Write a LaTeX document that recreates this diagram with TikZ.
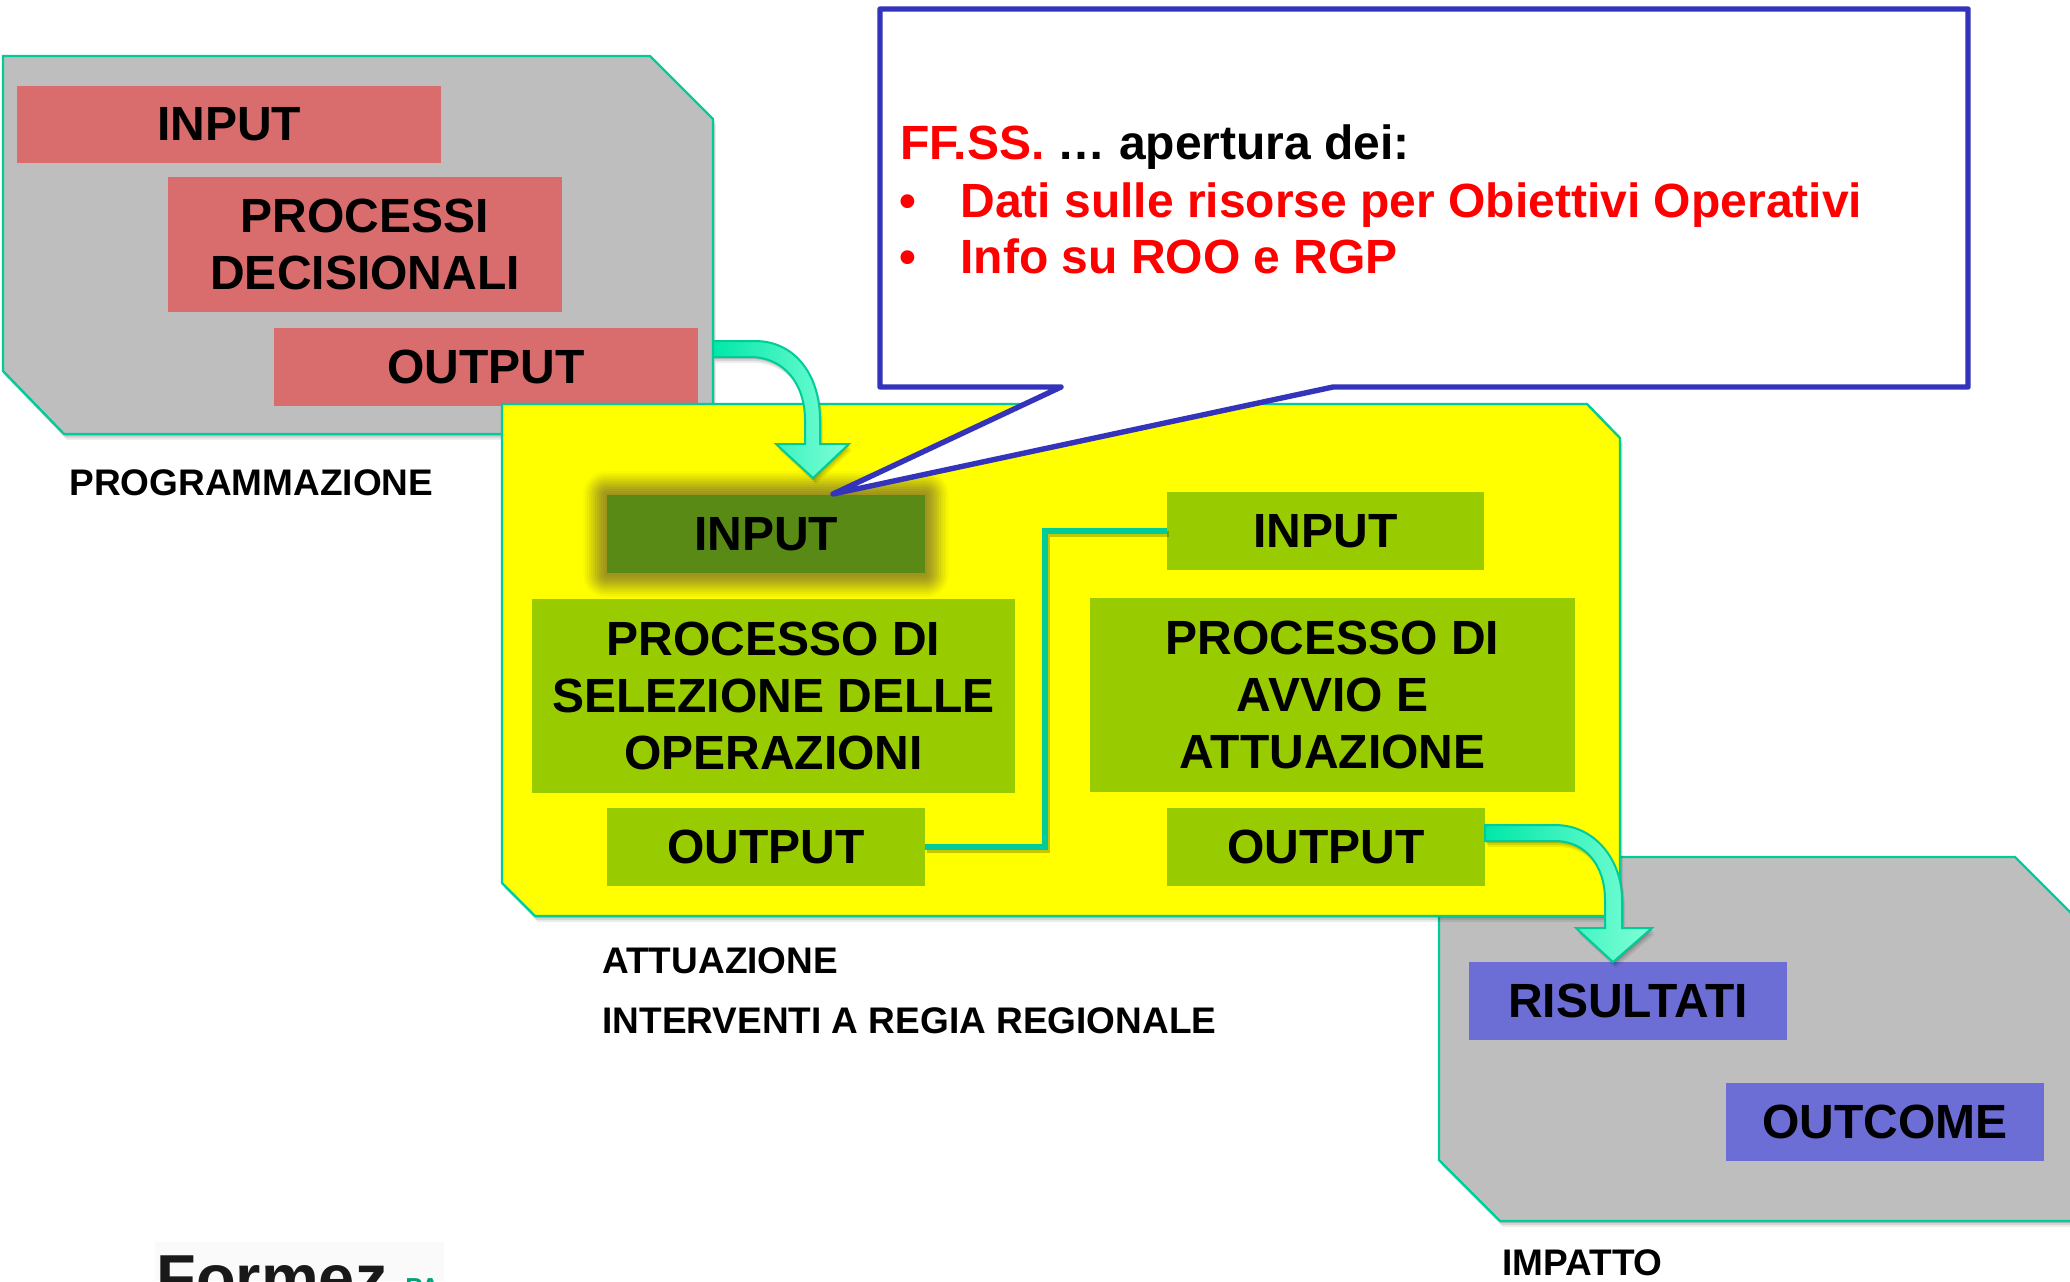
\documentclass[tikz,border=0pt]{standalone}
\usepackage{fontspec}
\setmainfont{Liberation Sans}
\definecolor{edgeg}{HTML}{00CC99}
\definecolor{panelg}{HTML}{BEBEBE}
\definecolor{redb}{HTML}{D96D6D}
\definecolor{greenb}{HTML}{99CC00}
\definecolor{darkg}{HTML}{598A16}
\definecolor{blueb}{HTML}{6D6DD6}
\definecolor{callb}{HTML}{3333BB}
\definecolor{glowc}{HTML}{7A6E30}
\definecolor{arrowa}{HTML}{00E8A8}
\definecolor{arrowb}{HTML}{80FFD8}
\definecolor{pureyellow}{HTML}{FFFF00}
\definecolor{purered}{HTML}{FF0000}
\newcommand{\rbox}[7]{\node[#1,minimum width={(#5-#3)*0.5pt},minimum height={(#6-#4)*0.5pt}] (#2) at ({(#3+#5)/2},{(#4+#6)/2+1}) {#7};}
\tikzset{
  x=0.5pt,y=-0.5pt,
  softshadow/.style={
    preaction={fill=black,fill opacity=.07,transform canvas={xshift=1.5pt,yshift=-3pt}},
    preaction={fill=black,fill opacity=.10,transform canvas={xshift=1pt,yshift=-2pt}},
    preaction={fill=black,fill opacity=.14,transform canvas={xshift=.5pt,yshift=-1pt}}},
  panel/.style={draw=edgeg,line width=1.2pt,line join=miter,softshadow},
  boxtxt/.style={inner sep=0pt,outer sep=0pt,align=center,font=\fontsize{24}{28.7}\selectfont\bfseries},
  redbox/.style={boxtxt,fill=redb},
  greenbox/.style={boxtxt,fill=greenb},
  darkbox/.style={boxtxt,fill=darkg},
  bluebox/.style={boxtxt,fill=blueb},
  lab/.style={inner sep=0pt,anchor=base west,font=\fontsize{18.5}{21}\selectfont\bfseries},
  calltxt/.style={inner sep=0pt,anchor=base west,font=\fontsize{24}{28.7}\selectfont\bfseries,text=purered},
  blockarrow/.style={draw=edgeg,line width=1pt,line join=miter,left color=arrowa,middle color=arrowb,right color=arrowb,softshadow},
}
\begin{document}
\begin{tikzpicture}
\useasboundingbox (0,0) rectangle (2070,1281);
\clip (0,0) rectangle (2070,1281);
% programmazione panel
\path[panel,fill=panelg] (3,56) -- (650,56) -- (713,119) -- (713,434) -- (64,434) -- (3,371) -- cycle;
\rbox{redbox}{pin}{17}{85}{441}{162}{INPUT}
\rbox{redbox}{pdec}{168}{176}{562}{311}{PROCESSI\\DECISIONALI}
\rbox{redbox}{pout}{274}{327}{698}{405}{OUTPUT}
\node[lab] (lprog) at (69,495) {PROGRAMMAZIONE};
% impatto panel
\path[panel,fill=panelg] (1439,857) -- (2015,857) -- (2085,927) -- (2085,1221) -- (1500,1221) -- (1439,1160) -- cycle;
\rbox{bluebox}{ris}{1469}{961}{1787}{1039}{RISULTATI}
\rbox{bluebox}{outc}{1726}{1082}{2044}{1160}{OUTCOME}
\node[lab] (limp) at (1502,1275) {IMPATTO};
% attuazione panel
\path[panel,fill=pureyellow] (502,404) -- (1587,404) -- (1620,438) -- (1620,916) -- (535,916) -- (502,883) -- cycle;
\foreach \w/\o in {24/.04,22/.05,20/.07,18/.08,16/.09,14/.10,12/.11,10/.12,8/.12,6/.12,4/.12,2/.12}{
  \draw[glowc,line width=\w pt,opacity=\o,line join=round] (607,495) rectangle (925,574);
}
\rbox{darkbox}{ain}{607}{494}{925}{572}{INPUT}
\rbox{greenbox}{asel}{532}{598}{1015}{792}{PROCESSO DI\\SELEZIONE DELLE\\OPERAZIONI}
\rbox{greenbox}{aout}{607}{807}{925}{885}{OUTPUT}
\rbox{greenbox}{bin}{1167}{491}{1484}{569}{INPUT}
\rbox{greenbox}{bavv}{1090}{597}{1575}{791}{PROCESSO DI\\AVVIO E\\ATTUAZIONE}
\rbox{greenbox}{bout}{1167}{807}{1485}{885}{OUTPUT}
\node[lab] (latt) at (602,973) {ATTUAZIONE};
\node[lab] (lreg) at (602,1033) {INTERVENTI A REGIA REGIONALE};
% elbow connector
\draw[black,draw opacity=.22,line width=2.8pt,transform canvas={xshift=1pt,yshift=-1.5pt}] (aout.east) -- (1045,847) |- (bin.west);
\draw[edgeg,line width=2.8pt,line join=miter] (aout.east) -- (1045,847) |- (bin.west);
% callout
\draw[callb,line width=2.7pt,line join=round,fill=white] (880,9) -- (1968,9) -- (1968,387) -- (1333,387) -- (833,494) -- (1061,387) -- (880,387) -- cycle;
\node[calltxt] (ct1) at (900,159) {FF.SS. \textcolor{black}{… apertura dei:}};
\node[calltxt] (cb2) at (899,217) {•};
\node[calltxt] (ct2) at (960,217) {Dati sulle risorse per Obiettivi Operativi};
\node[calltxt] (cb3) at (899,273) {•};
\node[calltxt] (ct3) at (960,273) {Info su ROO e RGP};
% block arrows
\path[blockarrow] (713,341) -- (755,341) .. controls (795,341) and (820,375) .. (820,420) -- (820,444) -- (849,444) -- (813,478) -- (776,444) -- (805,444) -- (805,420) .. controls (805,385) and (785,357) .. (750,357) -- (713,357) -- cycle;
\path[blockarrow] (1485,825) -- (1555,825) .. controls (1595,825) and (1622,860) .. (1622,900) -- (1622,928) -- (1652,928) -- (1613,962) -- (1576,928) -- (1605,928) -- (1605,900) .. controls (1605,865) and (1585,841) .. (1555,841) -- (1485,841) -- cycle;
% logo
\fill[black!2] (155,1242) rectangle (444,1281);
\node[inner sep=0pt,anchor=base west,font=\fontsize{32.5}{36}\selectfont\bfseries,text=black!90] (logo) at (156,1300) {Formez};
\node[inner sep=0pt,anchor=base west,font=\fontsize{13}{15}\selectfont\bfseries,text=edgeg!80!black] (logopa) at (405,1296) {PA};
\end{tikzpicture}
\end{document}
